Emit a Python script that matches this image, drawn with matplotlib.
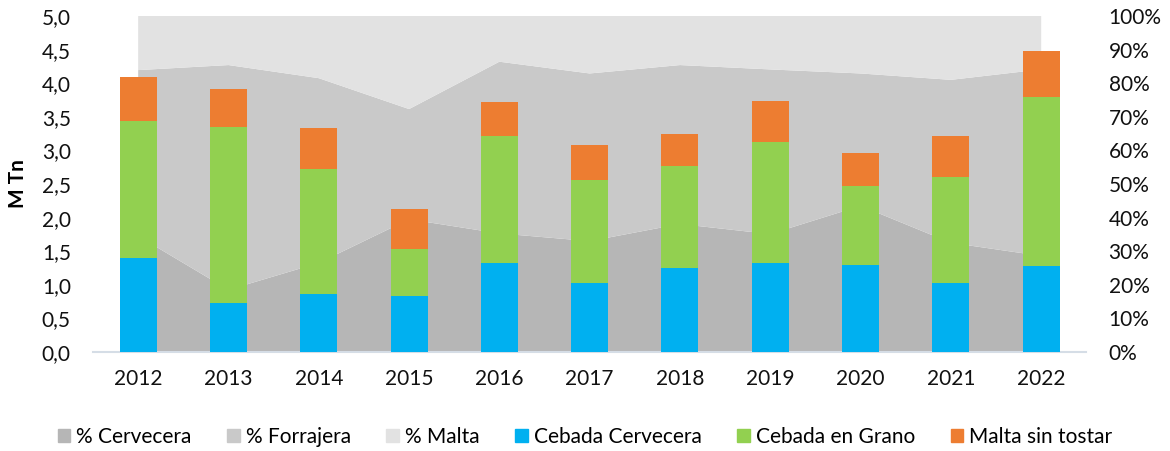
import matplotlib.pyplot as plt
import matplotlib
import numpy as np
from matplotlib.patches import Patch

matplotlib.rcParams['font.family'] = ['Lato', 'DejaVu Sans']

# datos
years = ['2012', '2013', '2014', '2015', '2016', '2017', '2018', '2019', '2020', '2021', '2022']
cebada_cervecera = [1.40, 0.73, 0.86, 0.84, 1.33, 1.02, 1.25, 1.32, 1.29, 1.02, 1.28]
cebada_grano = [2.04, 2.62, 1.86, 0.70, 1.89, 1.54, 1.52, 1.81, 1.18, 1.58, 2.52]
malta_sin_tostar = [0.65, 0.56, 0.61, 0.59, 0.50, 0.52, 0.48, 0.60, 0.49, 0.62, 0.68]
pct_cervecera = [34.5, 18.5, 26.5, 39.5, 35.3, 33.0, 38.1, 35.1, 43.5, 32.5, 28.6]
pct_cerv_forr = [83.9, 85.4, 81.5, 72.3, 86.4, 82.9, 85.4, 84.1, 82.9, 81.0, 84.1]
pct_forrajera = [a - b for a, b in zip(pct_cerv_forr, pct_cervecera)]
pct_malta = [100 - a for a in pct_cerv_forr]

c_cerv = '#b6b6b6'
c_forr = '#c9c9c9'
c_malta = '#e2e2e2'
c_blue = '#00b0f0'
c_green = '#92d050'
c_orange = '#ed7d31'

fig = plt.figure(figsize=(11.7, 4.51), dpi=100)
ax = fig.add_axes([0.0795, 0.2195, 0.849, 0.745])
ax2 = ax.twinx()

x = np.arange(len(years))

# areas (eje derecho)
ax2.stackplot(x, pct_cervecera, pct_forrajera, pct_malta,
              colors=[c_cerv, c_forr, c_malta], linewidth=0)
ax2.set_ylim(0, 100)
ax2.set_yticks(np.arange(0, 101, 10))
ax2.set_yticklabels(['%d%%' % v for v in range(0, 101, 10)])

# barras (eje izquierdo)
w = 0.41
b1 = np.array(cebada_cervecera)
b2 = b1 + np.array(cebada_grano)
ax.bar(x, cebada_cervecera, w, color=c_blue, zorder=3)
ax.bar(x, cebada_grano, w, bottom=b1, color=c_green, zorder=3)
ax.bar(x, malta_sin_tostar, w, bottom=b2, color=c_orange, zorder=3)
ax.set_ylim(0, 5)
ax.set_yticks(np.arange(0, 5.01, 0.5))
ax.set_yticklabels([('%.1f' % v).replace('.', ',') for v in np.arange(0, 5.01, 0.5)])
ax.set_xlim(-0.5, 10.5)
ax.set_xticks(x)
ax.set_xticklabels(years)
ax.set_ylabel('M Tn', fontsize=15, fontweight='bold', labelpad=10)

ax.set_zorder(ax2.get_zorder() + 1)
ax.patch.set_visible(False)

for a in (ax, ax2):
    for s in a.spines.values():
        s.set_visible(False)
    a.tick_params(length=0, labelsize=15, colors='#111111')
ax.spines['bottom'].set_visible(True)
ax.spines['bottom'].set_color('#d5dde6')
ax.spines['bottom'].set_linewidth(1.5)
ax.tick_params(axis='y', pad=16)
ax.tick_params(axis='x', pad=12)
ax2.tick_params(axis='y', pad=16)

# leyenda
handles = [Patch(color=c_cerv), Patch(color=c_forr), Patch(color=c_malta),
           Patch(color=c_blue), Patch(color=c_green), Patch(color=c_orange)]
labels = ['% Cervecera', '% Forrajera', '% Malta', 'Cebada Cervecera', 'Cebada en Grano', 'Malta sin tostar']
fig.legend(handles, labels, loc='center', bbox_to_anchor=(0.5, 0.032), ncol=6,
           frameon=False, fontsize=15, handlelength=0.6, handleheight=0.6,
           handletextpad=0.3, columnspacing=1.7)

fig.savefig('out.png', dpi=100)
